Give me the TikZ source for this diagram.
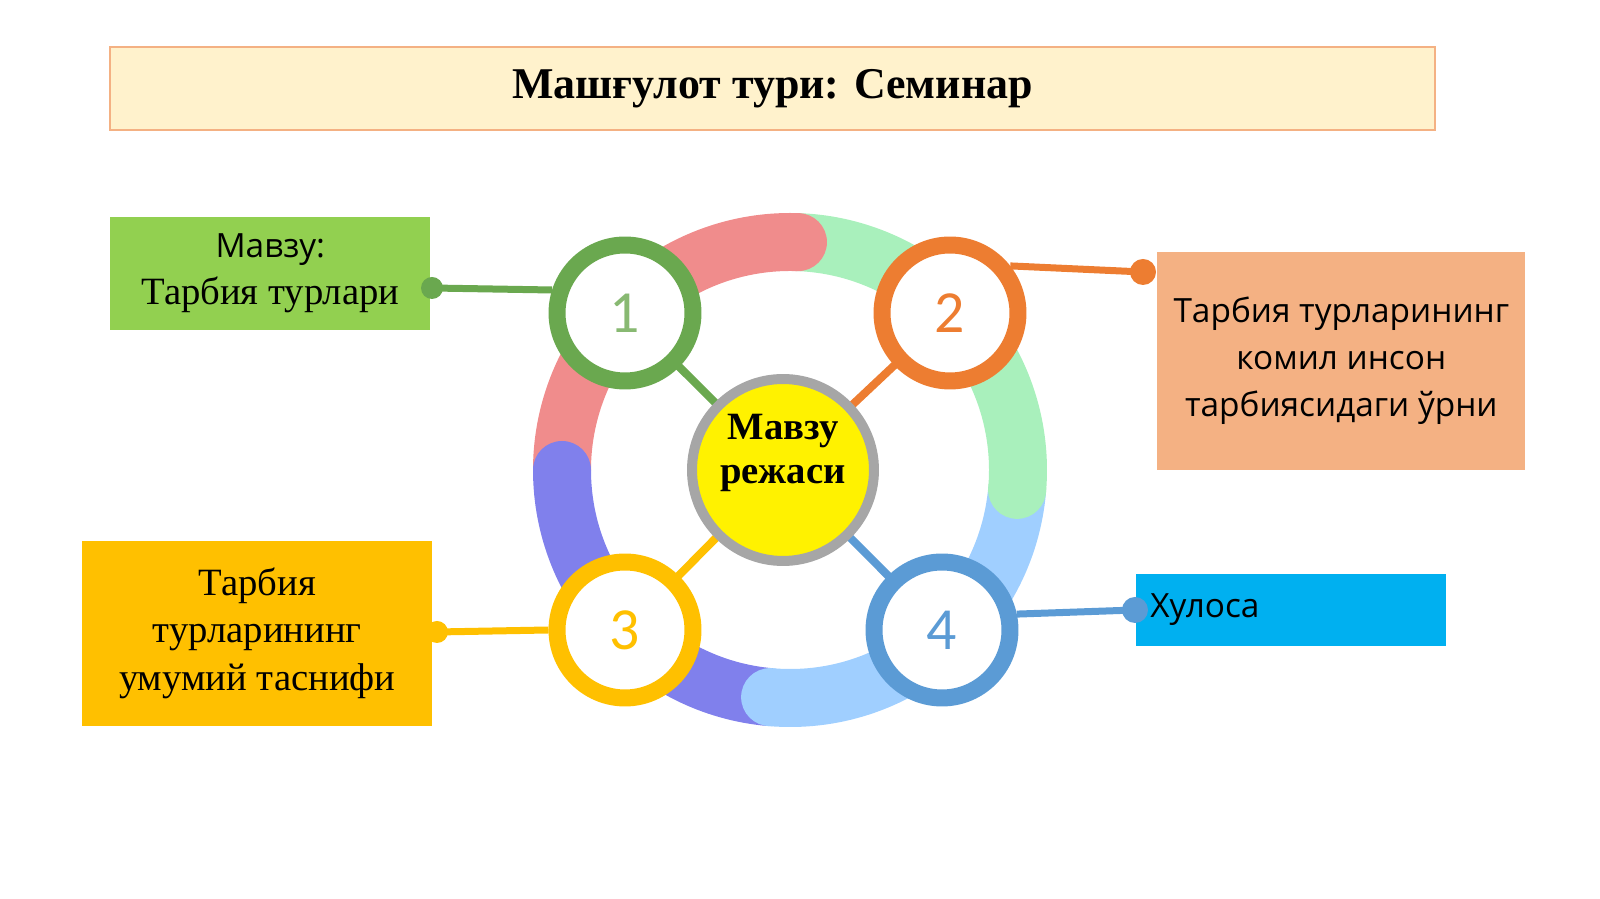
\documentclass[tikz,border=0pt]{standalone}
\usepackage{fontspec}
\setmainfont{Liberation Serif}
\newfontfamily\osans{Open Sans}
\newfontfamily\numf{Carlito}
\begin{document}
\begin{tikzpicture}[x=0.02cm,y=0.02cm,
  seg/.style={line width=1.16cm},
  num/.style={circle,draw,fill=white,line width=0.34cm,minimum size=2.72cm,inner sep=0pt,font=\numf\fontsize{34}{34}\selectfont},
  link/.style={line width=0.16cm},
  box/.style={draw=none,inner sep=0pt,anchor=south west}]
\definecolor{cream}{HTML}{FFF2CC}\definecolor{creamb}{HTML}{F4B183}
\definecolor{rred}{HTML}{F08C8C}\definecolor{rgreen}{HTML}{A9F0BC}
\definecolor{rblue}{HTML}{A0CFFF}\definecolor{rpurp}{HTML}{8080EC}
\definecolor{cg}{HTML}{6AA84F}\definecolor{co}{HTML}{ED7D31}
\definecolor{cy}{HTML}{FFC000}\definecolor{cb}{HTML}{5B9BD5}
\definecolor{bg}{HTML}{92D050}\definecolor{bo}{HTML}{F4B183}
\definecolor{bb}{HTML}{00B0F0}
\useasboundingbox (0,0) rectangle (1600,899);
% title
\node[draw=creamb,fill=cream,line width=0.8pt,minimum width=26.5cm,minimum height=1.66cm] (title) at (772.5,810.5) {\bfseries\fontsize{25}{30}\selectfont Машғулот тури: Семинар};
% ring
\def\R{228}
\draw[seg,rred] (790,429) ++(180:\R) arc (180:88:\R);
\draw[seg,rgreen] (790,429) ++(88:\R) arc (88:-5:\R);
\draw[seg,rblue] (790,429) ++(-5:\R) arc (-5:-95:\R);
\draw[seg,rpurp] (790,429) ++(-95:\R) arc (-95:-180:\R);
\fill[rred] (790,429) ++(88:\R) circle (29);
\fill[rgreen] (790,429) ++(-5:\R) circle (29);
\fill[rblue] (790,429) ++(-95:\R) circle (29);
\fill[rpurp] (790,429) ++(180:\R) circle (29);
% center links
\coordinate (cc) at (783,429);
\draw[link,cg] (625,586) -- (cc);
\draw[link,co] (950,586) -- (cc);
\draw[link,cy] (625,269) -- (cc);
\draw[link,cb] (942,269) -- (cc);
\node[circle,draw=gray!70,line width=0.2cm,fill=yellow,minimum size=3.64cm,inner sep=0pt] (center) at (cc) {};
\node[align=center,font=\bfseries\fontsize{22}{25}\selectfont] (ct) at (783,446) {Мавзу\\режаси};
\node[num,draw=cg,text=cg!80!white] (c1) at (625,586) {1};
\node[num,draw=co,text=co] (c2) at (950,586) {2};
\node[num,draw=cy,text=cy] (c3) at (625,269) {3};
\node[num,draw=cb,text=cb] (c4) at (942,269) {4};
% boxes
\node[box,fill=bg,minimum width=6.4cm,minimum height=2.26cm] (b1) at (110,569) {};
\node[align=center,font=\fontsize{22}{27}\selectfont] (t1) at (b1.center) {{\osans\fontsize{19}{27}\selectfont Мавзу:}\\Тарбия турлари};
\node[box,fill=bo,minimum width=7.36cm,minimum height=4.36cm] (b2) at (1157,429) {};
\node[align=center,font=\osans\fontsize{19}{26.6}\selectfont] (t2) at (b2.center) {Тарбия турларининг\\комил инсон\\тарбиясидаги ўрни};
\node[box,fill=cy,minimum width=7cm,minimum height=3.7cm] (b3) at (82,173) {};
\node[align=center,font=\fontsize{22}{27}\selectfont] (t3) at (b3.center) {Тарбия\\турларининг\\умумий таснифи};
\node[box,fill=bb,minimum width=6.2cm,minimum height=1.44cm] (b4) at (1136,253) {};
\node[anchor=west,font=\osans\fontsize{19}{24}\selectfont,inner sep=0pt] (t4) at (1150,289) {Хулоса};
% side connectors
\coordinate (d1) at (432,611); \coordinate (e1) at (552,609);
\coordinate (d2) at (1143,627);
\coordinate (d3) at (437,267); \coordinate (d4) at (1135,289);
\draw[line width=0.14cm,cg] (d1) -- (e1);
\fill[cg] (d1) circle (11);
\draw[line width=0.14cm,co] (c2.38) -- (d2);
\fill[co] (d2) circle (13);
\draw[line width=0.14cm,cy] (d3) -- (c3.west);
\fill[cy] (d3) circle (11);
\draw[line width=0.14cm,cb] (c4.12) -- (d4);
\fill[cb] (d4) circle (13);
\end{tikzpicture}
\end{document}
